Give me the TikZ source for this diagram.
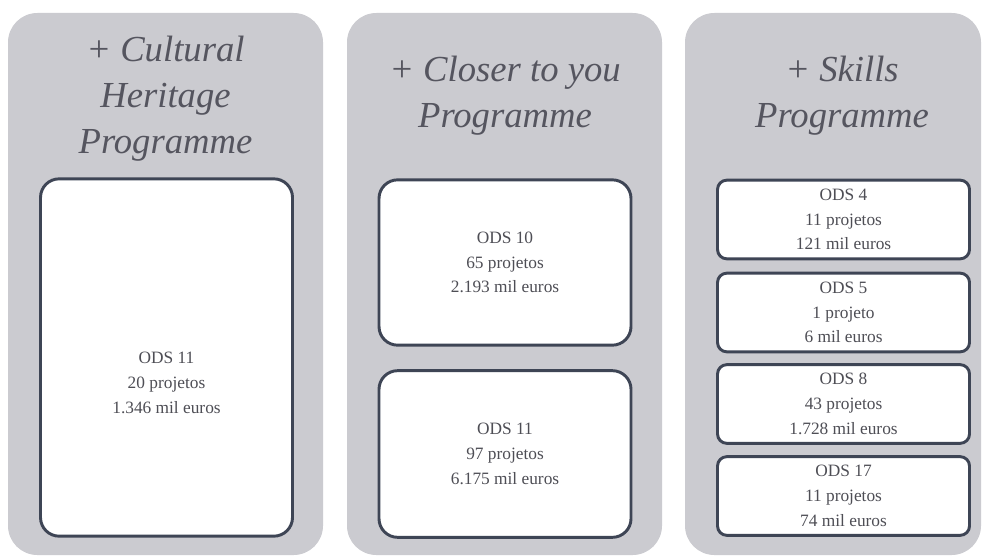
\documentclass[tikz,border=0pt]{standalone}
\usepackage{fontspec}
\setmainfont{Liberation Serif}
\usepackage{xcolor}

\definecolor{panelgrey}{HTML}{CBCBD0}
\definecolor{boxline}{HTML}{3E4555}
\definecolor{titlegrey}{HTML}{55555F}
\definecolor{textgrey}{HTML}{4E4E55}

\begin{document}
\begin{tikzpicture}[x=0.75pt,y=-0.75pt,
  panel/.style={fill=panelgrey,rounded corners=22pt},
  title/.style={text=titlegrey,align=center,font=\fontsize{27.5}{34.5}\selectfont\itshape},
  odsbox/.style={draw=boxline,line width=2.2pt,fill=white,rounded corners=14pt,minimum width=189pt,align=center,text=textgrey,font=\fontsize{13}{18.5}\selectfont},
  odssmall/.style={odsbox,rounded corners=7pt,minimum height=59pt,inner sep=0pt}]
\useasboundingbox (0,0) rectangle (987,556);
% the three programme columns
\fill[panel] (8,13) rectangle (323,555);
\fill[panel] (347,13) rectangle (662,555);
\fill[panel] (685,13) rectangle (981,555);

\node[title] (heritage) at (165.5,99) {+ Cultural\\Heritage\\Programme};
\node[title] (closer) at (505,96) {+ Closer to you\\Programme};
\node[title] (skills) at (842,96) {+ Skills\\Programme};

% Cultural Heritage
\node[odsbox,minimum height=268pt] (ch11) at (166.5,357.5) {};
\node[align=center,text=textgrey,font=\fontsize{13}{18.5}\selectfont] (ch11txt) at (ch11.center) [yshift=-19pt] {ODS 11\\20 projetos\\1.346 mil euros};

% Closer to you
\node[odsbox,minimum height=124pt] (cl10) at (505,262.5) {ODS 10\\65 projetos\\2.193 mil euros};
\node[odsbox,minimum height=125pt] (cl11) at (505,454) {ODS 11\\97 projetos\\6.175 mil euros};

% Skills
\node[odssmall] (sk4) at (843.5,219.5) {ODS 4\\11 projetos\\121 mil euros};
\node[odssmall] (sk5) at (843.5,312.5) {ODS 5\\1 projeto\\6 mil euros};
\node[odssmall] (sk8) at (843.5,404) {ODS 8\\43 projetos\\1.728 mil euros};
\node[odssmall] (sk17) at (843.5,496) {ODS 17\\11 projetos\\74 mil euros};
\end{tikzpicture}
\end{document}
